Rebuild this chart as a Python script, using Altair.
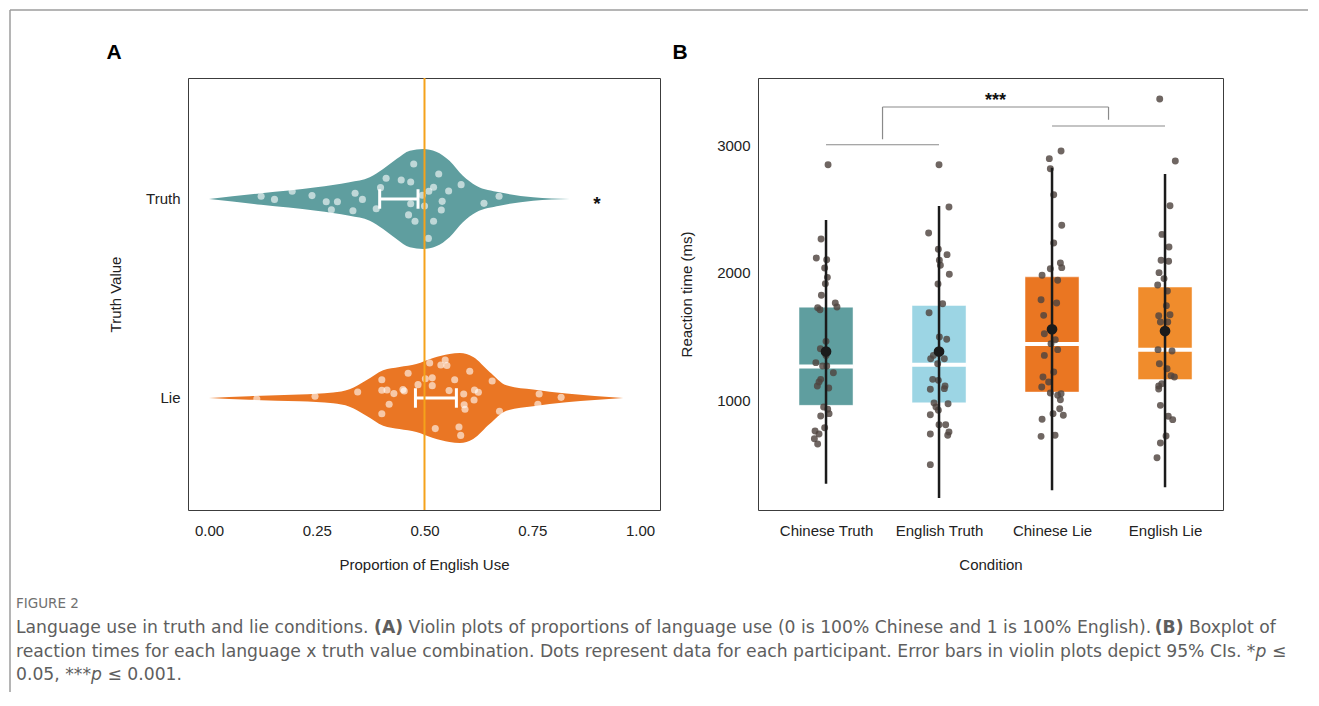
import altair as alt
import pandas as pd

FONT = "Liberation Sans"
CAP_FONT = "DejaVu Sans"

# ---------------- Panel A data ----------------
groups_a = ["Truth", "Lie"]
group_pos = [1, 0]
violin_colors = ["#5f9e9f", "#ea7624"]

truth_prof_x = [0.0, 0.121, 0.249, 0.326, 0.373, 0.404, 0.435, 0.466, 0.497, 0.527, 0.558, 0.589, 0.620, 0.674, 0.752, 0.837]
truth_prof_hw = [0.0, 0.029, 0.059, 0.084, 0.109, 0.151, 0.201, 0.243, 0.251, 0.238, 0.192, 0.117, 0.067, 0.034, 0.009, 0.0]
lie_prof_x = [0.0, 0.094, 0.210, 0.288, 0.326, 0.365, 0.404, 0.442, 0.481, 0.520, 0.558, 0.582, 0.613, 0.651, 0.690, 0.752, 0.829, 0.961]
lie_prof_hw = [0.0, 0.009, 0.017, 0.027, 0.044, 0.089, 0.139, 0.156, 0.171, 0.201, 0.221, 0.226, 0.206, 0.131, 0.064, 0.042, 0.022, 0.0]

truth_prop = [0.121, 0.152, 0.193, 0.239, 0.272, 0.298, 0.284, 0.334, 0.339, 0.356, 0.388, 0.398, 0.411, 0.446,
              0.468, 0.475, 0.463, 0.478, 0.468, 0.495, 0.500, 0.510, 0.521, 0.533, 0.541, 0.539, 0.556, 0.585,
              0.521, 0.509, 0.638, 0.673]
truth_jit = [0.014, -0.002, 0.039, 0.017, -0.014, -0.014, -0.054, -0.059, 0.029, -0.002, -0.049, 0.057, 0.104, 0.095,
             0.085, 0.176, -0.080, -0.112, -0.024, 0.019, -0.035, 0.039, 0.059, 0.126, -0.012, -0.055, 0.040, 0.072,
             -0.112, -0.198, -0.022, 0.014]
lie_prop = [0.111, 0.246, 0.345, 0.401, 0.401, 0.413, 0.429, 0.418, 0.401, 0.450, 0.453, 0.462, 0.485, 0.502,
            0.512, 0.518, 0.518, 0.538, 0.548, 0.552, 0.570, 0.557, 0.591, 0.592, 0.594, 0.615, 0.616, 0.625,
            0.605, 0.657, 0.674, 0.525, 0.580, 0.584, 0.766, 0.763, 0.817]
lie_jit = [-0.005, 0.009, 0.030, 0.092, 0.039, 0.040, 0.022, -0.032, -0.079, 0.042, 0.035, 0.124, 0.067, 0.097,
           0.176, 0.101, 0.062, 0.166, 0.191, 0.163, 0.092, 0.037, 0.020, -0.034, -0.057, -0.010, 0.040, 0.029,
           0.134, 0.085, -0.067, -0.154, -0.146, -0.188, 0.020, -0.032, 0.003]

ci_lo = [0.396, 0.479]
ci_hi = [0.485, 0.574]
ref_value = 0.5
sig_a = ["*", ""]
sig_a_x = [0.9, 0.9]

# ---------------- Panel B data ----------------
conds = ["Chinese Truth", "English Truth", "Chinese Lie", "English Lie"]
box_colors = ["#5f9e9f", "#9cd5e4", "#ea7622", "#f08c2c"]
q1 = [958, 978, 1062, 1160]
q3 = [1728, 1741, 1966, 1886]
median = [1262, 1277, 1440, 1395]
mean = [1380, 1380, 1555, 1541]
whisk_lo = [344, 231, 293, 315]
whisk_hi = [2411, 2522, 2822, 2772]

rt_ct = [2845, 2263, 2114, 2100, 2035, 1962, 1912, 1821, 1761, 1729, 1724, 1708, 1460, 1402, 1350, 1293,
         1267, 1267, 1214, 1162, 1141, 1110, 1094, 945, 927, 893, 875, 783, 757, 733, 696, 655]
jit_ct = [0.018, -0.044, -0.086, 0.006, -0.012, 0.012, -0.006, -0.041, 0.082, 0.097, -0.074, -0.053, 0.0, -0.050,
          0.0, -0.090, -0.030, 0.006, 0.065, -0.047, -0.062, -0.077, 0.024, -0.021, 0.015, 0.027, -0.047, -0.012,
          -0.097, -0.062, -0.103, -0.074]
rt_et = [2845, 2514, 2310, 2182, 2140, 2096, 2057, 1986, 1910, 1755, 1685, 1494, 1476, 1350, 1324, 1324, 1285,
         1162, 1154, 1110, 1084, 1089, 976, 971, 945, 919, 885, 806, 806, 749, 723, 733, 493]
jit_et = [0.0, 0.088, -0.092, -0.006, 0.071, 0.003, 0.012, 0.091, -0.009, 0.032, -0.088, 0.003, 0.068, -0.050,
          -0.074, 0.047, -0.012, -0.056, -0.006, 0.053, -0.077, 0.047, -0.044, 0.080, -0.027, -0.006, -0.077, 0.0,
          0.059, 0.088, 0.077, -0.077, -0.077]
rt_cl = [2953, 2893, 2814, 2610, 2370, 2231, 2075, 2038, 2030, 1978, 1939, 1787, 1761, 1664, 1520, 1473, 1442,
         1395, 1350, 1220, 1180, 1141, 1102, 1055, 1049, 1037, 1002, 932, 893, 880, 849, 723, 715]
jit_cl = [0.080, -0.024, -0.015, 0.015, 0.086, 0.015, 0.074, 0.086, -0.015, -0.088, 0.050, -0.097, 0.041, -0.074,
          -0.068, 0.029, -0.009, 0.050, -0.068, 0.015, -0.080, -0.030, -0.091, -0.015, 0.080, 0.050, 0.074, 0.068,
          0.009, 0.100, -0.088, 0.027, -0.097]
rt_el = [3361, 2875, 2524, 2299, 2200, 2096, 2088, 1999, 1952, 1902, 1855, 1740, 1661, 1669, 1612, 1612, 1395,
         1384, 1285, 1245, 1191, 1180, 1128, 1110, 1086, 958, 872, 846, 718, 663, 547]
jit_el = [-0.047, 0.091, 0.044, -0.027, 0.035, -0.035, 0.032, -0.053, -0.009, -0.065, 0.021, 0.012, -0.056, 0.044,
          -0.041, 0.024, -0.062, 0.062, -0.050, 0.018, 0.053, 0.083, -0.029, -0.056, -0.056, -0.041, 0.029, 0.068,
          0.009, -0.041, -0.071]

# significance bracket (condition index, reaction time)
br_x = [0.0, 0.5, 0.5, 2.5, 2.0]
br_x2 = [1.0, 0.5, 2.5, 2.5, 3.0]
br_y = [3002, 3045, 3298, 3298, 3149]
br_y2 = [3002, 3298, 3298, 3198, 3149]
sig_b = ["***"]
sig_b_x = [1.5]
sig_b_y = [3376]

# caption text segments (text, weight, style) per line
cap_line1 = [("Language use in truth and lie conditions.", "normal", "normal"),
             ("(A)", "bold", "normal"),
             ("Violin plots of proportions of language use (0 is 100% Chinese and 1 is 100% English).", "normal", "normal"),
             ("(B)", "bold", "normal"),
             ("Boxplot of", "normal", "normal")]
cap_line2 = [("reaction times for each language x truth value combination. Dots represent data for each "
              "participant. Error bars in violin plots depict 95% CIs. *", "normal", "normal"),
             ("p", "normal", "italic"),
             ("\u2264", "normal", "normal")]
cap_line3 = [("0.05, ***", "normal", "normal"),
             ("p", "normal", "italic"),
             ("\u2264 0.001.", "normal", "normal")]

# ---------------- build tables ----------------
viol_rows = []
for g, c, xs, hws in [("Truth", 1, truth_prof_x, truth_prof_hw), ("Lie", 0, lie_prof_x, lie_prof_hw)]:
    for xv, hv in zip(xs, hws):
        viol_rows.append({"grp": g, "x": xv, "top": c + hv, "bot": c - hv})
viol_df = pd.DataFrame(viol_rows)

dots_a = pd.DataFrame(
    [{"grp": "Truth", "x": v, "y": 1 + j} for v, j in zip(truth_prop, truth_jit)]
    + [{"grp": "Lie", "x": v, "y": 0 + j} for v, j in zip(lie_prop, lie_jit)]
)
ci_df = pd.DataFrame({"grp": groups_a, "pos": group_pos, "lo": ci_lo, "hi": ci_hi,
                      "sig": sig_a, "sx": sig_a_x})
ci_df["cap_top"] = ci_df["pos"] + 0.049
ci_df["cap_bot"] = ci_df["pos"] - 0.049
ci_caps = pd.concat([ci_df.assign(cx=ci_df["lo"]), ci_df.assign(cx=ci_df["hi"])])

xA = alt.X("x:Q", scale=alt.Scale(domain=[-0.0487, 1.0464], nice=False, zero=False),
           axis=alt.Axis(values=[0, 0.25, 0.5, 0.75, 1.0], format=".2f", title="Proportion of English Use",
                         grid=False, ticks=False, tickSize=0, domain=False, labelPadding=13, titlePadding=19))
yA_scale = alt.Scale(domain=[-0.563, 1.608], nice=False, zero=False)
yA_axis = alt.Axis(values=[0, 1], labelExpr="datum.value == 1 ? 'Truth' : 'Lie'", title="Truth Value",
                   grid=False, ticks=False, tickSize=0, domain=False, labelPadding=8, titlePadding=22)

layers_a = []
for g, col in zip(groups_a, violin_colors):
    layers_a.append(
        alt.Chart(viol_df).transform_filter(alt.datum.grp == g).mark_area(
            color=col, interpolate="monotone", opacity=1
        ).encode(x=xA, y=alt.Y("top:Q", scale=yA_scale, axis=yA_axis), y2="bot:Q")
    )
layers_a.append(
    alt.Chart(dots_a).mark_circle(color="white", opacity=0.6, size=50).encode(
        x=alt.X("x:Q"), y=alt.Y("y:Q"))
)
layers_a.append(
    alt.Chart(ci_df).mark_rule(color="white", strokeWidth=3).encode(
        x="lo:Q", x2="hi:Q", y="pos:Q")
)
layers_a.append(
    alt.Chart(ci_caps).mark_rule(color="white", strokeWidth=3).encode(
        x="cx:Q", y="cap_bot:Q", y2="cap_top:Q")
)
layers_a.append(
    alt.Chart(pd.DataFrame({"v": [ref_value]})).mark_rule(color="#f5a21b", strokeWidth=2).encode(
        x="v:Q")
)
layers_a.append(
    alt.Chart(ci_df).mark_text(font=FONT, fontSize=19, fontWeight="bold", color="#111", baseline="middle",
                               dy=5).encode(x="sx:Q", y="pos:Q", text="sig:N")
)

# frame, panel letters and caption (pixel annotations)
one = pd.DataFrame({"a": [0]})
FRAME = "#9c9c9c"
layers_a.append(alt.Chart(one).mark_rule(color=FRAME, strokeWidth=1.5).encode(
    x=alt.value(-178), y=alt.value(-68), y2=alt.value(614)))
layers_a.append(alt.Chart(one).mark_rule(color=FRAME, strokeWidth=1.5).encode(
    x=alt.value(-178), x2=alt.value(1120), y=alt.value(-68)))
layers_a.append(alt.Chart(one).mark_text(text="A", font=FONT, fontSize=21, fontWeight="bold",
                                         color="#000", align="center", baseline="middle").encode(
    x=alt.value(-74), y=alt.value(-25)))

# caption layout: approximate DejaVu Sans advance widths (px at 16px) for chaining segments
CAP_SIZE = 17.2
SCALE = CAP_SIZE / 16.0
SEG_W16 = {cap_line1[0][0]: 328.0, "(A)": 27.0, cap_line1[2][0]: 689.0, "(B)": 26.7, "Boxplot of": 81.4,
           cap_line2[0][0]: 1153.0, "p": 10.2, "\u2264": 13.4, "0.05, ***": 69.8, "\u2264 0.001.": 74.5}
SPACE16 = 5.09
PANEL_X0, PANEL_Y0 = 186, 76


def cap(text, x, y, size=CAP_SIZE, weight="normal", style="normal", color="#5e5e5e"):
    return alt.Chart(one).mark_text(text=text, font=CAP_FONT, fontSize=size, fontWeight=weight, fontStyle=style,
                                    color=color, align="left", baseline="middle").encode(
        x=alt.value(x - PANEL_X0), y=alt.value(y - PANEL_Y0))


def cap_line(segments, y, spaces):
    out = []
    x = 14.0
    for (t, w, s), sp in zip(segments, spaces):
        out.append(cap(t, x, y, weight=w, style=s))
        x += (SEG_W16[t] + (SPACE16 if sp else 0)) * SCALE
    return out


caption = [cap("FIGURE 2", 14, 602, size=13.5, color="#707070")]
caption += cap_line(cap_line1, 626, [True, True, True, True, False])
caption += cap_line(cap_line2, 650, [False, True, False])
caption += cap_line(cap_line3, 673, [False, True, False])
layers_a += caption

panel_a = alt.layer(*layers_a).properties(width=472, height=432)

# ---------------- Panel B ----------------
box_df = pd.DataFrame({"cond": conds, "i": list(range(4)), "q1": q1, "q3": q3, "med": median,
                       "mean": mean, "lo": whisk_lo, "hi": whisk_hi, "col": box_colors})
box_df["l"] = box_df["i"] - 0.239
box_df["r"] = box_df["i"] + 0.239

dot_rows = []
for i, (vals, jits) in enumerate([(rt_ct, jit_ct), (rt_et, jit_et), (rt_cl, jit_cl), (rt_el, jit_el)]):
    for v, j in zip(vals, jits):
        dot_rows.append({"cond": conds[i], "xi": i + j, "rt": v})
dots_b = pd.DataFrame(dot_rows)

br_df = pd.DataFrame({"x": br_x, "x2": br_x2, "y": br_y, "y2": br_y2})
sig_df = pd.DataFrame({"t": sig_b, "x": sig_b_x, "y": sig_b_y})

label_expr = "[" + ",".join("'" + c + "'" for c in conds) + "][datum.value]"
xB_scale = alt.Scale(domain=[-0.602, 3.513], nice=False, zero=False)
xB_axis = alt.Axis(values=[0, 1, 2, 3], labelExpr=label_expr, title="Condition", grid=False, ticks=False,
                   tickSize=0, domain=False, labelPadding=13, titlePadding=19)
yB_scale = alt.Scale(domain=[137.3, 3525.5], nice=False, zero=False)
yB_axis = alt.Axis(values=[1000, 2000, 3000], format="d", title="Reaction time (ms)", grid=False, ticks=False,
                   tickSize=0, domain=False, labelPadding=8, titlePadding=22)

layers_b = [
    alt.Chart(box_df).mark_rect(stroke="white", strokeWidth=0.8, strokeOpacity=0.6).encode(
        x=alt.X("l:Q", scale=xB_scale, axis=xB_axis), x2="r:Q",
        y=alt.Y("q1:Q", scale=yB_scale, axis=yB_axis), y2="q3:Q",
        color=alt.Color("col:N", scale=None)),
    alt.Chart(box_df).mark_rule(color="white", strokeWidth=4).encode(x="l:Q", x2="r:Q", y="med:Q"),
    alt.Chart(dots_b).mark_circle(color="#4f4440", opacity=0.82, size=48).encode(x="xi:Q", y="rt:Q"),
    alt.Chart(box_df).mark_rule(color="#1b1b1b", strokeWidth=2.5).encode(x="i:Q", y="lo:Q", y2="hi:Q"),
    alt.Chart(box_df).mark_circle(color="#1b1b1b", opacity=1, size=115).encode(x="i:Q", y="mean:Q"),
    alt.Chart(br_df).mark_rule(color="#8a8a8a", strokeWidth=1.2).encode(x="x:Q", x2="x2:Q", y="y:Q", y2="y2:Q"),
    alt.Chart(sig_df).mark_text(font=FONT, fontSize=18, fontWeight="bold", color="#111",
                                baseline="middle", dy=4).encode(x="x:Q", y="y:Q", text="t:N"),
    alt.Chart(one).mark_text(text="B", font=FONT, fontSize=21, fontWeight="bold", color="#000",
                             align="center", baseline="middle").encode(x=alt.value(-78), y=alt.value(-25)),
]
panel_b = alt.layer(*layers_b).properties(width=465, height=432)

chart = alt.hconcat(panel_a, panel_b, spacing=98, bounds="flush").properties(
    padding={"left": 0, "top": 0, "right": 0, "bottom": 0}
).configure_view(stroke="#3c3c3c", strokeWidth=1).configure_axis(
    labelFont=FONT, titleFont=FONT, labelFontSize=15, titleFontSize=15, labelColor="#222",
    titleColor="#222", titleFontWeight="normal"
)

chart.save("out.html", embed_options={"renderer": "svg", "actions": False})
